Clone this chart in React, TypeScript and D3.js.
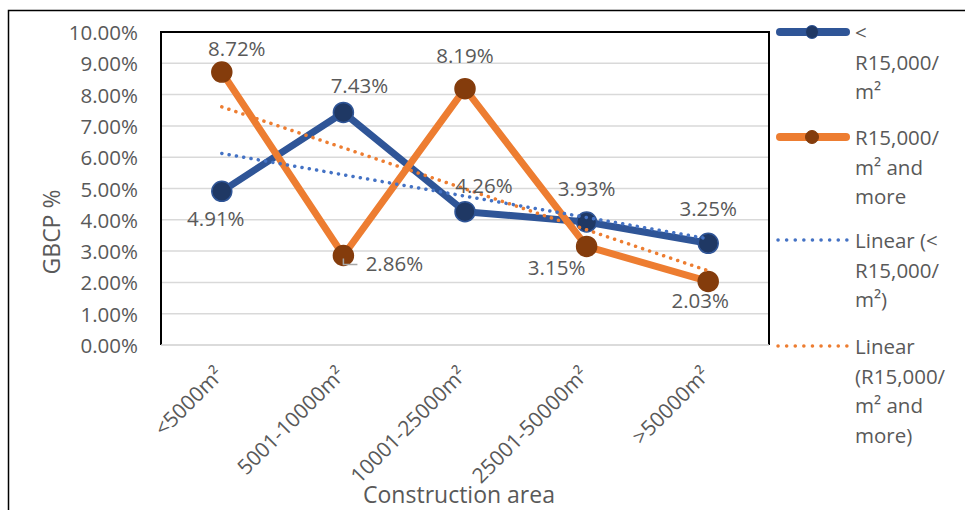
import React from "react";
import * as d3 from "d3";

// Construction-area categories and GBCP percentages per cost band
const categories = ["<5000m²", "5001-10000m²", "10001-25000m²", "25001-50000m²", ">50000m²"];
const seriesNames = ["< R15,000/ m²", "R15,000/ m² and more"];
const lowCostValues = [4.91, 7.43, 4.26, 3.93, 3.25];
const highCostValues = [8.72, 2.86, 8.19, 3.15, 2.03];
const yTicks = [0, 1, 2, 3, 4, 5, 6, 7, 8, 9, 10];

// Legend entries, already wrapped into lines
const legendLines = [
  ["<", "R15,000/", "m²"],
  ["R15,000/", "m² and", "more"],
  ["Linear (<", "R15,000/", "m²)"],
  ["Linear", "(R15,000/", "m² and", "more)"],
];

// Label placement relative to each point (dx, dy)
const lowLabelOffsets: [number, number][] = [[-6, 27], [16, -27], [19, -27], [0, -34], [0, -35]];
const highLabelOffsets: [number, number][] = [[15, -24], [51, 8], [0, -34], [-30, 21], [-8, 19]];

const W = 965;
const H = 510;
const plot = { left: 161, right: 769, top: 32, bottom: 345 };
const FONT = "'Open Sans', sans-serif";
const TEXT = "#595959";
const BLUE = "#2F5597";
const BLUE_MARK = "#1F3864";
const ORANGE = "#ED7D31";
const BROWN = "#843C0C";
const BLUE_TREND = "#4472C4";

function linearFit(vals: number[]) {
  const xs = vals.map((_, i) => i + 1);
  const mx = d3.mean(xs)!;
  const my = d3.mean(vals)!;
  const slope =
    d3.sum(xs, (x, i) => (x - mx) * (vals[i] - my)) / d3.sum(xs, (x) => (x - mx) ** 2);
  const icpt = my - slope * mx;
  return xs.map((x) => icpt + slope * x);
}

export default function App() {
  const xBand = d3.scaleBand<string>().domain(categories).range([plot.left, plot.right]).padding(0);
  const cx = (c: string) => xBand(c)! + xBand.bandwidth() / 2;
  const y = d3.scaleLinear().domain([0, 10]).range([plot.bottom, plot.top]);

  const line = d3
    .line<number>()
    .x((_, i) => cx(categories[i]))
    .y((v) => y(v));

  const lowTrend = linearFit(lowCostValues);
  const highTrend = linearFit(highCostValues);

  const series = [
    { vals: lowCostValues, color: BLUE, mark: BLUE_MARK, markStroke: BLUE, offs: lowLabelOffsets },
    { vals: highCostValues, color: ORANGE, mark: BROWN, markStroke: BROWN, offs: highLabelOffsets },
  ];

  const legendX0 = 776;
  const legendX1 = 850;
  const legendTextX = 855;
  const legendY = [32, 137, 240, 346];
  const lineGap = 29.5;

  return (
    <svg
      width={W}
      height={H}
      style={{ position: "absolute", left: 0, top: 0, background: "#fff" }}
      fontFamily={FONT}
    >
      <rect x={8.5} y={10.5} width={980} height={520} fill="#fff" stroke="#000" strokeWidth={1.5} />

      {/* horizontal gridlines */}
      {yTicks.map((t) => (
        <line
          key={t}
          x1={plot.left}
          x2={plot.right}
          y1={y(t)}
          y2={y(t)}
          stroke="#D9D9D9"
          strokeWidth={1.5}
        />
      ))}

      {/* plot-area frame */}
      <path
        d={`M${plot.left},${plot.bottom} V${plot.top} H${plot.right} V${plot.bottom}`}
        fill="none"
        stroke="#000"
        strokeWidth={2}
      />
      <line x1={plot.left} x2={plot.right} y1={y(0)} y2={y(0)} stroke="#D9D9D9" strokeWidth={1.5} />

      {/* y tick labels */}
      {yTicks.map((t) => (
        <text
          key={t}
          x={138}
          y={y(t)}
          textAnchor="end"
          dominantBaseline="central"
          fontSize={20.5}
          fill={TEXT}
        >
          {t.toFixed(2) + "%"}
        </text>
      ))}

      {/* y axis title */}
      <text
        transform={`translate(60,232) rotate(-90)`}
        textAnchor="middle"
        fontSize={23}
        fill={TEXT}
      >
        GBCP %
      </text>

      {/* x tick labels */}
      {categories.map((c) => (
        <text
          key={c}
          transform={`translate(${cx(c) + 3},${plot.bottom + 31}) rotate(-45)`}
          textAnchor="end"
          fontSize={21}
          fill={TEXT}
        >
          {c}
        </text>
      ))}

      {/* x axis title */}
      <text x={459} y={503} textAnchor="middle" fontSize={23} fill={TEXT}>
        Construction area
      </text>

      {/* series lines and markers */}
      {series.map((s, si) => (
        <g key={si}>
          <path d={line(s.vals)!} fill="none" stroke={s.color} strokeWidth={7} strokeLinejoin="round" />
          {s.vals.map((v, i) => (
            <circle
              key={i}
              cx={cx(categories[i])}
              cy={y(v)}
              r={10}
              fill={s.mark}
              stroke={s.markStroke}
              strokeWidth={1.5}
            />
          ))}
        </g>
      ))}

      {/* linear trendlines */}
      <path
        d={line(lowTrend)!}
        fill="none"
        stroke={BLUE_TREND}
        strokeWidth={3.5}
        strokeDasharray="0.1 7.3"
        strokeLinecap="round"
      />
      <path
        d={line(highTrend)!}
        fill="none"
        stroke={ORANGE}
        strokeWidth={3.5}
        strokeDasharray="0.1 7.3"
        strokeLinecap="round"
      />

      {/* leader line for the 2.86% label */}
      <path
        d={`M${cx(categories[1])},${y(highCostValues[1]) + 3} v6 h14`}
        fill="none"
        stroke="#A6A6A6"
        strokeWidth={1.5}
      />

      {/* data labels */}
      {series.map((s, si) =>
        s.vals.map((v, i) => (
          <text
            key={`${si}-${i}`}
            x={cx(categories[i]) + s.offs[i][0]}
            y={y(v) + s.offs[i][1]}
            textAnchor="middle"
            dominantBaseline="central"
            fontSize={20.5}
            fill={TEXT}
          >
            {v.toFixed(2) + "%"}
          </text>
        ))
      )}

      {/* legend */}
      {legendLines.map((lines, li) => {
        const ly = legendY[li];
        const isTrend = li >= 2;
        const color = li === 0 ? BLUE : li === 1 ? ORANGE : li === 2 ? BLUE_TREND : ORANGE;
        return (
          <g key={li}>
            {isTrend ? (
              <line
                x1={legendX0 + 2}
                x2={legendX1 - 3}
                y1={ly}
                y2={ly}
                stroke={color}
                strokeWidth={3.5}
                strokeDasharray="0.1 8.5"
                strokeLinecap="round"
              />
            ) : (
              <>
                <line
                  x1={legendX0 + 4}
                  x2={legendX1 - 4}
                  y1={ly}
                  y2={ly}
                  stroke={color}
                  strokeWidth={8}
                  strokeLinecap="round"
                />
                <circle
                  cx={(legendX0 + legendX1) / 2 - 1}
                  cy={ly}
                  r={6.5}
                  fill={series[li].mark}
                  stroke={series[li].markStroke}
                  strokeWidth={1}
                />
              </>
            )}
            {lines.map((t, k) => (
              <text
                key={k}
                x={legendTextX}
                y={ly + k * lineGap}
                dominantBaseline="central"
                fontSize={20.5}
                fill={TEXT}
              >
                {t}
              </text>
            ))}
          </g>
        );
      })}
    </svg>
  );
}
